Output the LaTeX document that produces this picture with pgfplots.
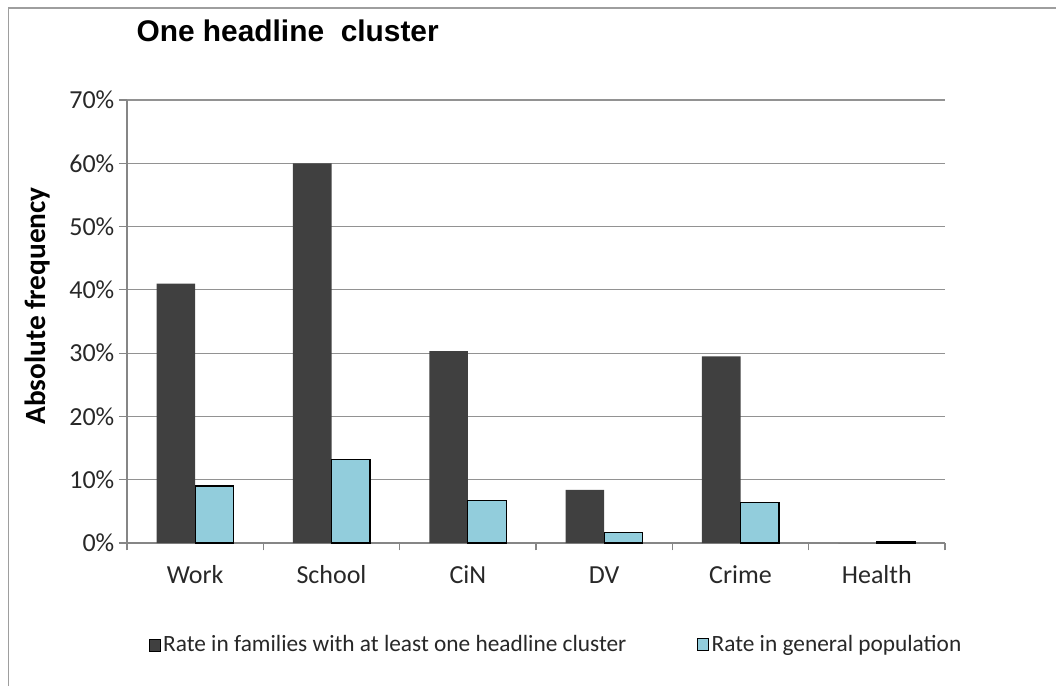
\documentclass[border=0pt]{standalone}
\usepackage{pgfplots}
\pgfplotsset{compat=1.18}
\usepackage{fontspec}
\setmainfont{Carlito}
\newfontfamily\titlefont{Liberation Sans}
\definecolor{darkbar}{RGB}{64,64,64}
\definecolor{lightbar}{RGB}{146,205,220}
\definecolor{axgray}{RGB}{134,134,134}
\definecolor{txt}{RGB}{40,40,40}
\begin{document}
\begin{tikzpicture}
\useasboundingbox (0,0) rectangle (792pt,514.5pt);
\draw[color=axgray!80, line width=0.8pt] (6.5pt,0) -- (6.5pt,508.5pt) -- (792pt,508.5pt);
\begin{axis}[
  at={(95.25pt,107.25pt)}, anchor=south west,
  scale only axis, width=613.5pt, height=332.25pt,
  ybar=0pt, bar width=28.9pt,
  xmin=-0.5, xmax=5.5, ymin=0, ymax=70,
  axis x line*=bottom, axis y line*=left,
  axis line style={color=axgray, line width=0.8pt},
  xtick={0,1,2,3,4,5},
  xticklabels={Work,School,CiN,DV,Crime,Health},
  major x tick style={draw=none},
  minor xtick={-0.5,0.5,1.5,2.5,3.5,4.5,5.5},
  minor x tick style={color=axgray, line width=0.8pt},
  minor tick length=5.5pt,
  ytick={0,10,20,30,40,50,60,70},
  yticklabels={0\%,10\%,20\%,30\%,40\%,50\%,60\%,70\%},
  major tick length=6pt,
  y tick style={color=axgray, line width=0.8pt},
  tick align=outside,
  ymajorgrids, grid style={color=axgray!90, line width=0.8pt},
  xticklabel style={font=\fontsize{19.5}{22}\selectfont, text=txt, anchor=base, yshift=-24pt},
  yticklabel style={font=\fontsize{19.5}{22}\selectfont, text=txt},
  title={\titlefont\bfseries One headline\ \ cluster},
  title style={at={(axis description cs:0.006,1.137)}, anchor=west, font=\fontsize{22.4}{26}\selectfont},
  ylabel={\bfseries Absolute frequency},
  ylabel style={at={(axis description cs:-0.11,0.535)}, anchor=center, font=\fontsize{22}{25}\selectfont},
  legend style={at={(axis description cs:0.022,-0.23)}, anchor=west, draw=none,
    font=\fontsize{17.5}{20}\selectfont, text=txt,
    /tikz/every even column/.append style={column sep=51pt}},
  legend columns=2,
  legend image code/.code={\draw[#1] (0pt,-4.5pt) rectangle (8pt,4.5pt);},
]
\addplot[fill=darkbar, draw=none] coordinates {(0,41.0) (1,60.0) (2,30.3) (3,8.4) (4,29.5) (5,0)};
\addplot[fill=lightbar, draw=black, line width=0.9pt] coordinates {(0,9.0) (1,13.2) (2,6.7) (3,1.7) (4,6.4) (5,0.3)};
\legend{Rate in families with at least one headline cluster, Rate in general population}
\end{axis}
\end{tikzpicture}
\end{document}
